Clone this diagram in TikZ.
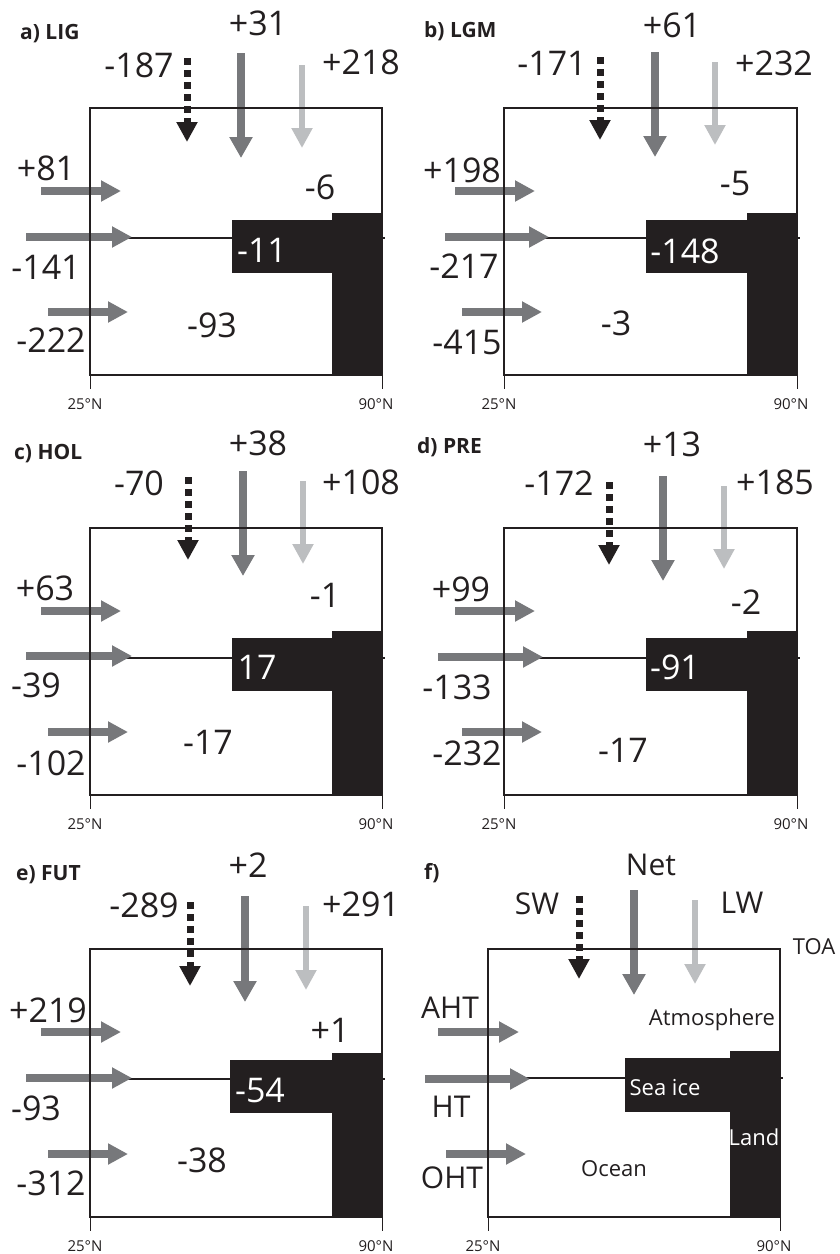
\documentclass[tikz,border=0pt]{standalone}
\usepackage{fontspec}
\setmainfont{Open Sans}
\usetikzlibrary{arrows.meta,calc}
\definecolor{ink}{HTML}{231F20}
\definecolor{netgray}{HTML}{77787B}
\definecolor{lwgray}{HTML}{BCBEC0}
\tikzset{
  boxline/.style={draw=ink,line width=2pt},
  midline/.style={draw=ink,line width=1.8pt},
  tickline/.style={draw=ink,line width=1pt},
  solidfill/.style={fill=ink,draw=none},
  netarr/.style={draw=netgray,line width=7.5pt,-{Triangle[length=21pt,width=22pt]}},
  lwarr/.style={draw=lwgray,line width=6.5pt,-{Triangle[length=20pt,width=20pt]}},
  swarr/.style={draw=ink,line width=7pt,dash pattern=on 7pt off 5pt,-{Triangle[length=20pt,width=20pt]}},
  htarr/.style={draw=netgray,line width=8pt,-{Triangle[length=20pt,width=20pt]}},
  num/.style={font=\fontsize{34}{40}\selectfont,inner sep=0pt,text height=24.5pt,text depth=0pt,text=ink},
  wnum/.style={num,text=white},
  ttl/.style={font=\bfseries\fontsize{21}{25}\selectfont,inner sep=0pt,anchor=west,text height=15pt,text depth=0pt,text=ink},
  lat/.style={font=\fontsize{15}{18}\selectfont,inner sep=0pt,text height=11pt,text depth=0pt,text=ink},
  big/.style={font=\fontsize{30}{36}\selectfont,inner sep=0pt,text height=21pt,text depth=0pt,text=ink},
  mid/.style={font=\fontsize{22}{26}\selectfont,inner sep=0pt,text height=16pt,text depth=0pt,text=ink},
  wmid/.style={mid,text=white},
}
% frame background: #1 prefix, #2 L, #3 R, #4 T, #5 B, #6 midY, #7 iceL, #8 iceT, #9 iceB
\newcommand\pframe[9]{%
  \coordinate (#1-tl) at (#2,#4);
  \coordinate (#1-br) at (#3,#5);
  \coordinate (#1-t1a) at (#2,#5); \coordinate (#1-t1b) at (#2,{#5+14});
  \coordinate (#1-t2a) at (#3,#5); \coordinate (#1-t2b) at (#3,{#5+14});
  \draw[tickline] (#1-t1a) -- (#1-t1b);
  \draw[tickline] (#1-t2a) -- (#1-t2b);
  \node[lat] (#1-lat1) at ({#2-5},{#5+29}) {25°N};
  \node[lat] (#1-lat2) at ({#3-6},{#5+29}) {90°N};
  \coordinate (#1-m1) at (#2,#6); \coordinate (#1-m2) at ({#3+3},#6);
  \draw[midline] (#1-m1) -- (#1-m2);
  \coordinate (#1-ice1) at (#7,#8); \coordinate (#1-ice2) at ({#3-50},#9);
  \fill[solidfill] (#1-ice1) rectangle (#1-ice2);
  \coordinate (#1-land1) at ({#3-50},{#8-7}); \coordinate (#1-land2) at (#3,#5);
  \fill[solidfill] (#1-land1) rectangle (#1-land2);
}
% vertical arrow: #1 name, #2 style, #3 x, #4 y0, #5 y1
\newcommand\varr[5]{%
  \coordinate (#1s) at (#3,#4); \coordinate (#1e) at (#3,#5);
  \draw[#2] (#1s) -- (#1e);}
% horizontal arrow: #1 name, #2 y, #3 x0, #4 x1
\newcommand\harr[4]{%
  \coordinate (#1s) at (#3,#2); \coordinate (#1e) at (#4,#2);
  \draw[htarr] (#1s) -- (#1e);}
\begin{document}
\begin{tikzpicture}[x=1pt,y=-1pt]
\useasboundingbox (0,0) rectangle (840,1254);
\fill[white] (0,0) rectangle (840,1254);

% ---------- panel a ----------
\pframe{a}{90}{382}{108}{375}{238}{232}{220}{273}
\varr{a-sw}{swarr}{187}{58}{142}
\varr{a-net}{netarr}{241}{53}{158}
\varr{a-lw}{lwarr}{302}{65}{148}
\harr{a-aht}{191}{41}{121}
\harr{a-ht}{237}{26}{132}
\harr{a-oht}{312}{48}{128}
\draw[boxline] (a-tl) rectangle (a-br);
\node[ttl] (a-title) at (20,32) {a) LIG};
\node[num] (a-swl) at (139,65) {-187};
\node[num] (a-netl) at (258,23) {+31};
\node[num] (a-lwl) at (361,62) {+218};
\node[num] (a-ahtl) at (46,168) {+81};
\node[num] (a-htl) at (46,267) {-141};
\node[num] (a-ohtl) at (51,340) {-222};
\node[num] (a-atm) at (320,187) {-6};
\node[wnum] (a-ice) at (262,250) {-11};
\node[num] (a-ocn) at (212,325) {-93};

% ---------- panel b ----------
\pframe{b}{504}{797}{108}{375}{238}{646}{220}{273}
\varr{b-sw}{swarr}{600}{57}{140}
\varr{b-net}{netarr}{655}{52}{157}
\varr{b-lw}{lwarr}{715}{62}{145}
\harr{b-aht}{191}{455}{535}
\harr{b-ht}{237}{445}{549}
\harr{b-oht}{312}{462}{542}
\draw[boxline] (b-tl) rectangle (b-br);
\node[ttl] (b-title) at (424,30) {b) LGM};
\node[num] (b-swl) at (552,63) {-171};
\node[num] (b-netl) at (672,25) {+61};
\node[num] (b-lwl) at (774,63) {+232};
\node[num] (b-ahtl) at (462,170) {+198};
\node[num] (b-htl) at (464,266) {-217};
\node[num] (b-ohtl) at (467,342) {-415};
\node[num] (b-atm) at (735,183) {-5};
\node[wnum] (b-ice) at (685,251) {-148};
\node[num] (b-ocn) at (616,323) {-3};

% ---------- panel c ----------
\pframe{c}{90}{382}{528}{795}{658}{232}{638}{691}
\varr{c-sw}{swarr}{188}{477}{560}
\varr{c-net}{netarr}{243}{471}{576}
\varr{c-lw}{lwarr}{303}{481}{564}
\harr{c-aht}{611}{41}{121}
\harr{c-ht}{656}{26}{132}
\harr{c-oht}{732}{48}{128}
\draw[boxline] (c-tl) rectangle (c-br);
\node[ttl] (c-title) at (14,452) {c) HOL};
\node[num] (c-swl) at (139,483) {-70};
\node[num] (c-netl) at (258,443) {+38};
\node[num] (c-lwl) at (361,482) {+108};
\node[num] (c-ahtl) at (45,588) {+63};
\node[num] (c-htl) at (36,685) {-39};
\node[num] (c-ohtl) at (51,763) {-102};
\node[num] (c-atm) at (325,595) {-1};
\node[wnum] (c-ice) at (257,667) {17};
\node[num] (c-ocn) at (208,742) {-17};

% ---------- panel d ----------
\pframe{d}{504}{797}{528}{795}{658}{646}{638}{691}
\varr{d-sw}{swarr}{609}{482}{565}
\varr{d-net}{netarr}{663}{476}{581}
\varr{d-lw}{lwarr}{724}{486}{569}
\harr{d-aht}{611}{455}{535}
\harr{d-ht}{657}{438}{543}
\harr{d-oht}{732}{462}{542}
\draw[boxline] (d-tl) rectangle (d-br);
\node[ttl] (d-title) at (417,446) {d) PRE};
\node[num] (d-swl) at (559,483) {-172};
\node[num] (d-netl) at (672,444) {+13};
\node[num] (d-lwl) at (775,482) {+185};
\node[num] (d-ahtl) at (461,589) {+99};
\node[num] (d-htl) at (457,687) {-133};
\node[num] (d-ohtl) at (467,753) {-232};
\node[num] (d-atm) at (746,602) {-2};
\node[wnum] (d-ice) at (675,667) {-91};
\node[num] (d-ocn) at (623,750) {-17};

% ---------- panel e ----------
\pframe{e}{90}{382}{949}{1217}{1079}{230}{1060}{1113}
\varr{e-sw}{swarr}{190}{902}{986}
\varr{e-net}{netarr}{245}{896}{1002}
\varr{e-lw}{lwarr}{306}{906}{990}
\harr{e-aht}{1032}{41}{121}
\harr{e-ht}{1078}{26}{132}
\harr{e-oht}{1154}{48}{128}
\draw[boxline] (e-tl) rectangle (e-br);
\node[ttl] (e-title) at (16,873) {e) FUT};
\node[num] (e-swl) at (144,905) {-289};
\node[num] (e-netl) at (248,865) {+2};
\node[num] (e-lwl) at (361,904) {+291};
\node[num] (e-ahtl) at (48,1010) {+219};
\node[num] (e-htl) at (36,1108) {-93};
\node[num] (e-ohtl) at (51,1183) {-312};
\node[num] (e-atm) at (330,1030) {+1};
\node[wnum] (e-ice) at (260,1090) {-54};
\node[num] (e-ocn) at (202,1160) {-38};

% ---------- panel f ----------
\pframe{f}{488}{780}{949}{1217}{1078}{625}{1058}{1112}
\varr{f-sw}{swarr}{579}{896}{979}
\varr{f-net}{netarr}{634}{890}{995}
\varr{f-lw}{lwarr}{695}{900}{984}
\harr{f-aht}{1032}{438}{519}
\harr{f-ht}{1079}{425}{530}
\harr{f-oht}{1154}{446}{526}
\draw[boxline] (f-tl) rectangle (f-br);
\node[ttl] (f-title) at (424,872) {f)};
\node[big] (f-swl) at (537,904) {SW};
\node[big] (f-netl) at (651,865) {Net};
\node[big] (f-lwl) at (742,903) {LW};
\node[mid] (f-toa) at (814,946) {TOA};
\node[big] (f-ahtl) at (450,1008) {AHT};
\node[big] (f-htl) at (451,1107) {HT};
\node[big] (f-ohtl) at (452,1178) {OHT};
\node[mid] (f-atm) at (712,1017) {Atmosphere};
\node[wmid] (f-ice) at (665,1087) {Sea ice};
\node[wmid] (f-land) at (754,1137) {Land};
\node[mid] (f-ocn) at (614,1168) {Ocean};
\end{tikzpicture}
\end{document}
